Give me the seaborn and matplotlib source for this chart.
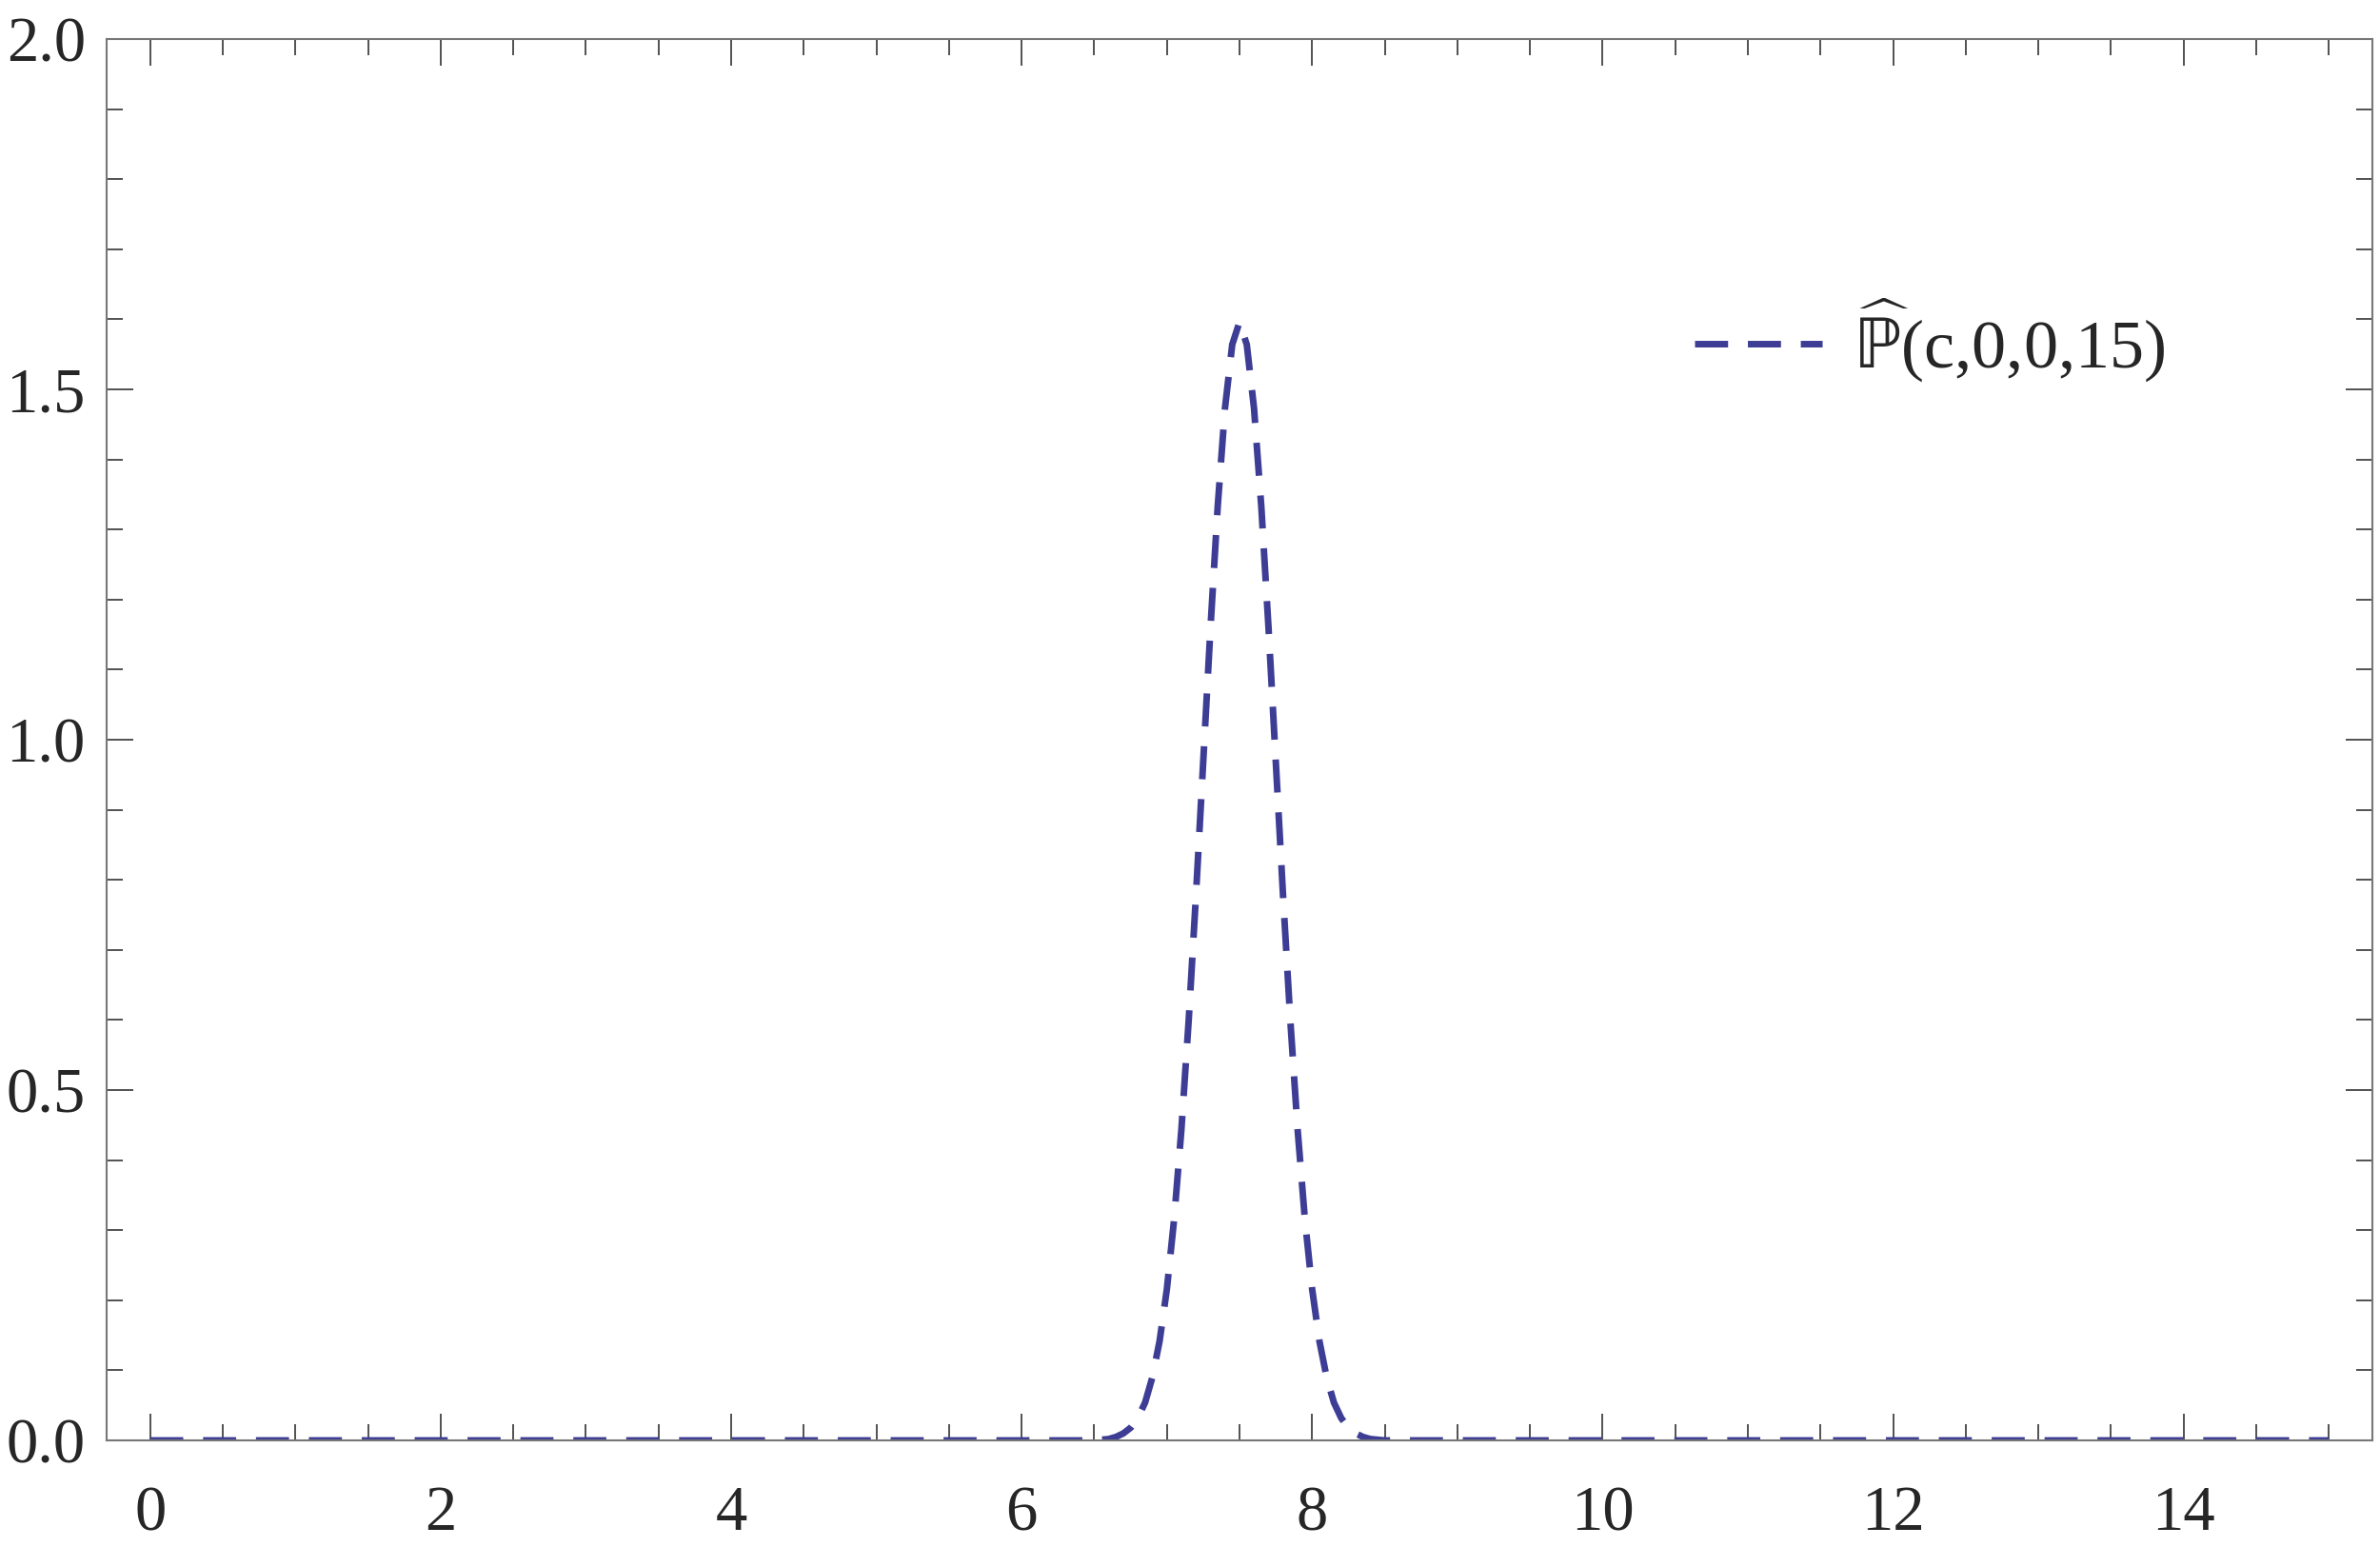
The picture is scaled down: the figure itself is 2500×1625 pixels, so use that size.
import numpy as np
import pandas as pd
import matplotlib
matplotlib.use("Agg")
import matplotlib.pyplot as plt
import seaborn as sns
from matplotlib.ticker import MultipleLocator

# curve values (peak near c = 7.5)
c_vals = [0.0, 1.0, 2.0, 3.0, 4.0, 5.0, 6.0, 6.4, 6.5, 6.55, 6.6, 6.65, 6.7, 6.75,
          6.8, 6.85, 6.9, 6.95, 7.0, 7.05, 7.1, 7.15, 7.2, 7.25, 7.3, 7.35, 7.4,
          7.45, 7.5, 7.55, 7.6, 7.65, 7.7, 7.75, 7.8, 7.85, 7.9, 7.95, 8.0, 8.05,
          8.1, 8.15, 8.2, 8.25, 8.3, 8.35, 8.4, 8.45, 8.5, 8.6, 9.0, 10.0, 11.0,
          12.0, 13.0, 14.0, 15.0]
p_vals = [0.0, 0.0, 0.0, 0.0, 0.0, 0.0, 0.0, 0.0, 0.0, 0.001, 0.002, 0.005, 0.010, 0.018,
          0.032, 0.054, 0.090, 0.142, 0.216, 0.316, 0.444, 0.599, 0.777, 0.968, 1.159,
          1.333, 1.473, 1.564, 1.596, 1.564, 1.473, 1.333, 1.159, 0.968, 0.777, 0.599,
          0.444, 0.316, 0.216, 0.142, 0.090, 0.054, 0.032, 0.018, 0.010, 0.005, 0.002,
          0.001, 0.0, 0.0, 0.0, 0.0, 0.0, 0.0, 0.0, 0.0, 0.0]
series_label = r"$\widehat{\mathrm{ℙ}}$(c,0,0,15)"

x_ticks = [0, 2, 4, 6, 8, 10, 12, 14]
y_ticks = [0.0, 0.5, 1.0, 1.5, 2.0]

df = pd.DataFrame({"c": c_vals, "p": p_vals})

sns.set_style("ticks")
plt.rcParams["font.family"] = ["Liberation Serif", "DejaVu Serif"]
plt.rcParams["mathtext.fontset"] = "dejavusans"

fig = plt.figure(figsize=(25, 16.25), dpi=100)
ax = fig.add_axes([0.0448, 0.0689, 0.952, 0.9059])

line_color = "#3D3D95"
sns.lineplot(data=df, x="c", y="p", ax=ax, color=line_color, lw=5,
             linestyle=(0, (5.0, 3.0)), label=series_label)

ax.set_xlim(-0.3, 15.3)
ax.set_ylim(0, 2.0)
ax.set_xticks(x_ticks)
ax.set_yticks(y_ticks)
ax.set_xticklabels([str(t) for t in x_ticks])
ax.set_yticklabels([f"{t:.1f}" for t in y_ticks])
ax.xaxis.set_minor_locator(MultipleLocator(0.5))
ax.yaxis.set_minor_locator(MultipleLocator(0.1))
ax.set_xlabel("")
ax.set_ylabel("")

ax.tick_params(which="both", direction="in", top=True, right=True,
               color="#222222", width=1.1)
ax.tick_params(which="major", length=20, labelsize=48)
ax.tick_params(which="minor", length=12)
ax.tick_params(axis="x", which="major", pad=34)
ax.tick_params(axis="y", which="major", pad=16)

for s in ax.spines.values():
    s.set_color("#777777")
    s.set_linewidth(1.5)

leg = ax.legend(loc="center left", bbox_to_anchor=(0.701, 0.785), frameon=False,
                fontsize=52, handlelength=1.85, handletextpad=0.45, borderpad=0,
                borderaxespad=0)

fig.savefig("out.png", dpi=100, facecolor="white")
